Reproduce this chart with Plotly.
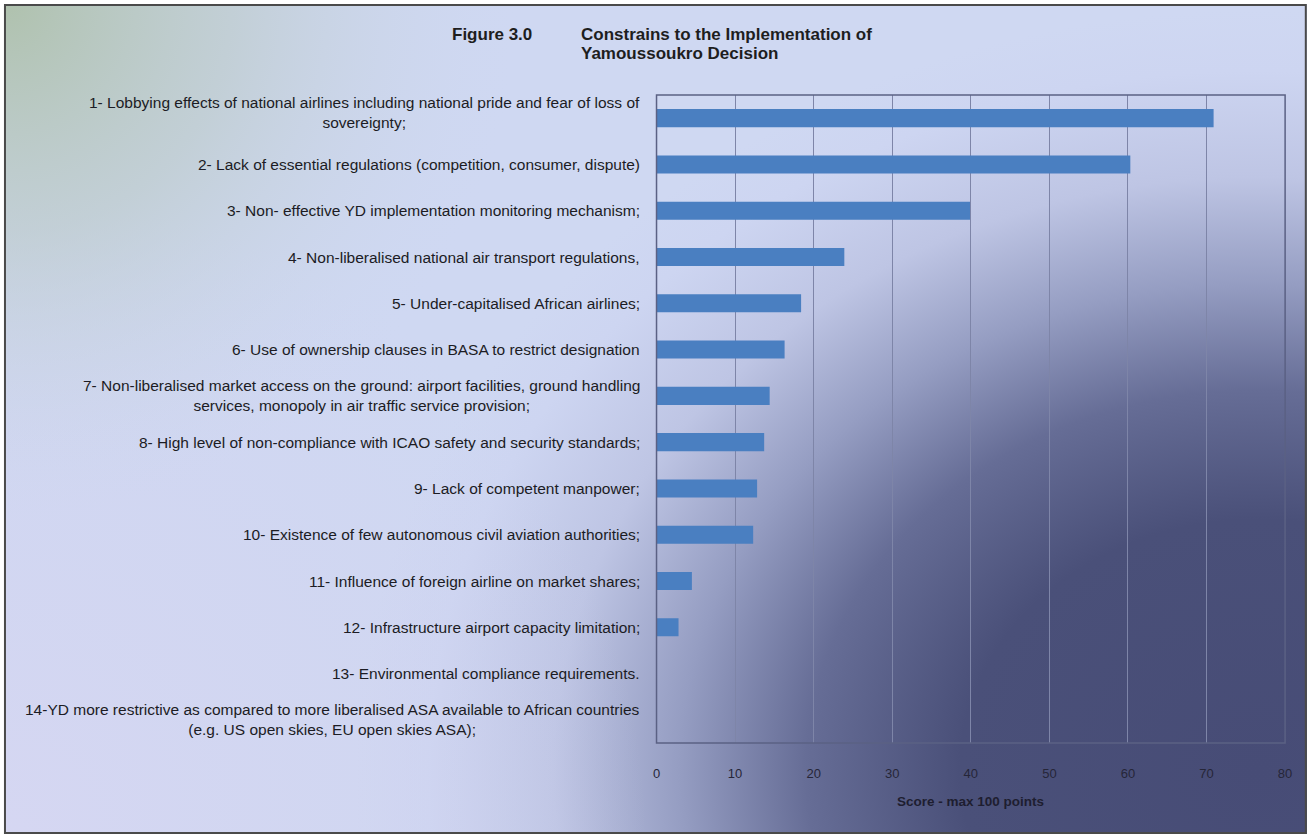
import base64
import plotly.graph_objects as go

W, H = 1314, 836

categories = [
    "1- Lobbying effects of national airlines including national pride and fear of loss of<br>sovereignty;",
    "2- Lack of essential regulations (competition, consumer, dispute)",
    "3- Non- effective YD implementation monitoring mechanism;",
    "4- Non-liberalised national air transport regulations,",
    "5- Under-capitalised African airlines;",
    "6- Use of ownership clauses in BASA to restrict designation",
    "7- Non-liberalised market access on the ground: airport facilities, ground handling<br>services, monopoly in air traffic service provision;",
    "8- High level of non-compliance with ICAO safety and security standards;",
    "9- Lack of competent manpower;",
    "10- Existence of few autonomous civil aviation authorities;",
    "11- Influence of foreign airline on market shares;",
    "12- Infrastructure airport capacity limitation;",
    "13- Environmental compliance requirements.",
    "14-YD more restrictive as compared to more liberalised ASA available to African countries<br>(e.g. US open skies, EU open skies ASA);",
]
scores = [70.9, 60.3, 39.9, 23.9, 18.4, 16.3, 14.4, 13.7, 12.8, 12.3, 4.5, 2.8, 0, 0]
x_ticks = [0, 10, 20, 30, 40, 50, 60, 70, 80]

# plot box in page pixels
PL, PR, PT, PB = 656, 1285, 95, 743


def px(x):
    # page pixel -> paper fraction (the page draws the figure slightly narrowed)
    return min(max((x - 3.03) / 0.9923 / W, 0.0), 1.0)


def py(y):
    return 1 - y / H


FONT = "Liberation Sans, Arial, sans-serif"

# background: framed panel, light blue top-left fading to navy at bottom-right
svg = f"""<svg xmlns='http://www.w3.org/2000/svg' width='{W}' height='{H}' viewBox='0 0 {W} {H}' preserveAspectRatio='none'>
<defs>
<radialGradient id='navy' gradientUnits='userSpaceOnUse' cx='1265' cy='770' r='760'
  gradientTransform='translate(1265 770) scale(1.2 1) translate(-1265 -770)'>
<stop offset='0' stop-color='#474c76'/>
<stop offset='0.33' stop-color='#4a5079'/>
<stop offset='0.50' stop-color='#666d96'/>
<stop offset='0.64' stop-color='#959dc2'/>
<stop offset='0.78' stop-color='#bec5e4'/>
<stop offset='0.92' stop-color='#cdd5f1'/>
<stop offset='1' stop-color='#cfd8f2'/>
</radialGradient>
<radialGradient id='sage' gradientUnits='userSpaceOnUse' cx='0' cy='0' r='520'>
<stop offset='0' stop-color='#adc0a9' stop-opacity='0.95'/>
<stop offset='0.45' stop-color='#b8c8c0' stop-opacity='0.55'/>
<stop offset='1' stop-color='#cdd8ee' stop-opacity='0'/>
</radialGradient>
<radialGradient id='lav' gradientUnits='userSpaceOnUse' cx='0' cy='836' r='650'>
<stop offset='0' stop-color='#d8d6f2' stop-opacity='0.7'/>
<stop offset='0.6' stop-color='#d4d4f0' stop-opacity='0.35'/>
<stop offset='1' stop-color='#d4d4f0' stop-opacity='0'/>
</radialGradient>
</defs>
<rect x='0' y='0' width='{W}' height='{H}' fill='#ffffff'/>
<rect x='0' y='4' width='{W}' height='830' fill='url(#navy)'/>
<rect x='0' y='4' width='{W}' height='830' fill='url(#lav)'/>
<rect x='0' y='4' width='{W}' height='830' fill='url(#sage)'/>
</svg>"""
bg_src = "data:image/svg+xml;base64," + base64.b64encode(svg.encode()).decode()

fig = go.Figure(
    go.Bar(
        y=categories,
        x=scores,
        orientation="h",
        marker=dict(color="#4a7fc1", line=dict(width=0)),
        hoverinfo="x+y",
    )
)

label_font = dict(family=FONT, size=15.5, color="#1c1c24")

annotations = []
for i, cat in enumerate(categories):
    annotations.append(
        dict(
            text=cat,
            xref="paper",
            yref="y",
            x=px(PL - 15),
            y=cat,
            xanchor="right",
            yanchor="middle",
            align="center",
            showarrow=False,
            yshift=6 if i == 0 else 0,
            font=label_font,
        )
    )

title_font = dict(family=FONT, size=17, color="#1e1e1e")
annotations += [
    dict(text="<b>Figure 3.0</b>", xref="paper", yref="paper", x=px(449), y=py(34),
         xanchor="left", yanchor="middle", showarrow=False, font=title_font),
    dict(text="<b>Constrains to the Implementation of</b>",
         xref="paper", yref="paper", x=px(578), y=py(34), xanchor="left", yanchor="middle",
         showarrow=False, font=title_font),
    dict(text="<b>Yamoussoukro Decision</b>",
         xref="paper", yref="paper", x=px(578), y=py(53), xanchor="left", yanchor="middle",
         showarrow=False, font=title_font),
    dict(text="<b>Score - max 100 points</b>", xref="x domain", yref="paper", x=0.5, y=py(801),
         xanchor="center", yanchor="middle", showarrow=False,
         font=dict(family=FONT, size=13.5, color="#1e1e30")),
]

fig.update_layout(
    width=W,
    height=H,
    margin=dict(l=0, r=0, t=0, b=0),
    paper_bgcolor="#ffffff",
    plot_bgcolor="rgba(0,0,0,0)",
    showlegend=False,
    bargap=0.61,
    xaxis=dict(
        domain=[px(PL), px(PR)],
        range=[0, 80],
        tickvals=x_ticks,
        showgrid=True,
        gridcolor="#7e85a8",
        gridwidth=1,
        zeroline=False,
        showline=False,
        ticks="outside",
        ticklen=18,
        tickcolor="rgba(0,0,0,0)",
        tickfont=dict(family=FONT, size=13, color="#262638"),
    ),
    yaxis=dict(
        domain=[py(PB), py(PT)],
        type="category",
        categoryorder="array",
        categoryarray=categories,
        autorange="reversed",
        showticklabels=False,
        showgrid=False,
        zeroline=False,
        ticks="",
    ),
    images=[dict(source=bg_src, xref="paper", yref="paper", x=0, y=1, sizex=1, sizey=1,
                 xanchor="left", yanchor="top", sizing="stretch", layer="below")],
    shapes=[
        dict(type="rect", xref="x domain", yref="y domain", x0=0, x1=1, y0=0, y1=1,
             line=dict(color="#5b6184", width=1.5), layer="above"),
        dict(type="rect", xref="paper", yref="paper", x0=px(4), x1=1 - 1.2 / W, y0=py(833), y1=py(5),
             line=dict(color="#4a4a4a", width=2), layer="above"),
    ],
    annotations=annotations,
)

fig.write_html("out.html")
